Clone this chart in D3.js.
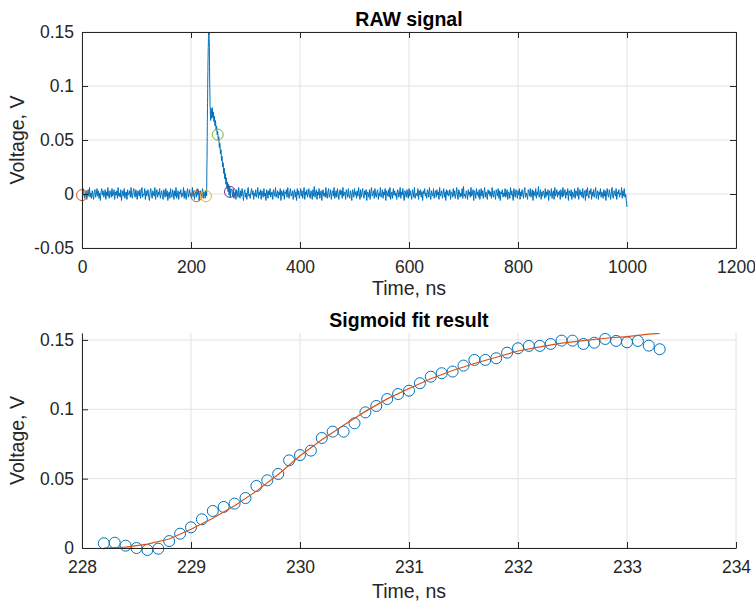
<!DOCTYPE html>
<html>
<head>
<meta charset="utf-8">
<script src="https://cdn.jsdelivr.net/npm/d3@7"></script>
<style>
  body { margin: 0; background: #fff; }
  svg { display: block; font-family: "Liberation Sans", Arial, Helvetica, sans-serif; }
</style>
</head>
<body>
<svg id="chart" width="755" height="604"></svg>
<script>
// ---- data ----

// raw trace: baseline noise before the pulse, in mV, one sample every 1.25 ns from 0 ns
const preStart = 0;
const noiseStep = 1.25;
const preNoiseMv = [
  2, -3, 5, 1, -4, -1, 3, -5, 0, 4, -2, 6, -3, 1, -4, 3, -1, -5, 2, 4,
  -3, 0, 5, -2, 3, -4, 1, -6, 2, 5, -1, 3, -3, 0, 4, -5, 2, -2, 6, -1,
  -4, 3, 1, -3, 5, -2, 0, 4, -5, 2, -1, 3, -4, 6, -2, 1, -3, 4, -6, 0,
  3, -2, 5, -4, 1, 2, -5, 4, -1, 0, 3, -3, 6, -2, -4, 2, 5, -1, -3, 4,
  0, -5, 3, 1, -2, 4, -4, 2, 6, -3, 0, -1, 5, -5, 3, -2, 1, 4, -3, -6,
  2, 5, -1, -4, 3, 0, -2, 6, -5, 1, 4, -3, 2, -1, 5, -4, 0, 3, -2, -5,
  4, 1, -3, 5, -2, 3, -6, 0, 2, -4, 5, -1, -3, 4, 1, -5, 3, -2, 6, -4,
  -1, 3, -5, 2, 0, 4, -3, 1, -2, 6, -4, 3, -1, -5, 2, 5, -3, 0, 4, -2,
  1, -4, 6, -2, 3, -5, 0, 2, -3, 5, -1, 4, -6, 1, 3, -2, 0, 5, -4, 2,
  -1
];

// pulse edges and tail (ns, V)
const pulseT = [226, 227, 228, 233.6, 234, 234.5, 235, 236, 237, 238, 239, 240, 241, 242, 243, 244,
  245, 246, 247, 248, 249, 250, 251, 252, 253, 254, 255, 256, 257, 258, 259, 260, 261, 262, 263,
  264, 265, 266, 267, 268, 269, 270, 271, 272, 273];
const pulseV = [-0.004, 0.003, -0.002, 0.140, 0.118, 0.098, 0.082, 0.068, 0.079, 0.070, 0.080, 0.071,
  0.076, 0.067, 0.072, 0.063, 0.068, 0.059, 0.063, 0.055, 0.058, 0.050, 0.053, 0.043, 0.047, 0.037,
  0.041, 0.031, 0.035, 0.025, 0.029, 0.019, 0.024, 0.014, 0.019, 0.009, 0.015, 0.005, 0.011, 0.002,
  0.009, -0.001, 0.007, -0.003, 0.005];

// baseline noise after the pulse, in mV, every 1.25 ns from 275 ns to 1000 ns
const postStart = 275;
const postNoiseMv = [
  3, -2, 5, -4, 0, 2, -5, 4, 1, -3, 6, -1, -4, 3, -2, 5, 0, -6, 2, 4,
  -3, 1, -5, 3, 6, -2, 0, -4, 2, 5, -1, 3, -5, 1, -2, 4, -3, 0, 6, -4,
  2, -1, 4, -5, 3, 0, -3, 5, -2, 1, -6, 4, 2, -4, 3, -1, 5, -3, 0, 2,
  -5, 4, 1, -2, 6, -3, 0, 3, -4, 2, -1, 5, -6, 3, 1, -2, 4, -5, 2, 0,
  4, -3, 6, -1, -4, 2, 5, -2, 0, 3, -5, 1, 4, -3, 2, -6, 5, -1, 3, -4,
  0, 5, -2, 3, -4, 1, 6, -5, 2, -1, 4, -3, 0, 5, -2, -4, 3, 1, -5, 4,
  -2, 7, -3, 1, 4, -5, 2, -1, 5, -4, 0, 3, -6, 2, 4, -2, 1, -3, 6, -1,
  -4, 2, 5, -3, 0, 4, -5, 1, 3, -2, 6, -4, -1, 3, -3, 5, 0, -5, 2, 4,
  -1, 3, -4, 6, -2, 0, 2, -5, 4, 1, -3, 5, -2, -4, 3, 0, -6, 4, 2, -3,
  5, -1, 2, -4, 3, -2, 6, 0, -5, 4, -3, 1, 5, -2, -4, 3, -1, 4, -6, 2,
  1, -3, 4, -5, 2, 6, -2, 0, 3, -4, 5, -1, -3, 2, 4, -5, 1, -2, 6, -3,
  0, 4, -4, 2, -1, 5, -6, 3, 1, -2, 4, -3, 6, -5, 0, 2, -4, 5, -1, 3,
  -2, 1, -5, 4, 3, -3, 0, 6, -4, 2, -1, 5, -2, -6, 3, 1, -3, 4, 0, -4,
  5, -2, 3, -1, -5, 4, 2, -3, 6, -4, 0, 1, -2, 5, -5, 3, -1, 4, -3, 2,
  -6, 3, 0, 5, -2, 1, -4, 4, 2, -3, 6, -1, -5, 3, 0, -2, 5, -4, 1, 3,
  -3, 4, -1, 2, -5, 6, -2, 0, 3, -4, 1, 5, -3, 2, -6, 4, -1, 3, -2, 0,
  4, -5, 2, 1, -3, 5, -2, 3, -4, 0, 6, -1, -5, 4, 2, -3, 1, -2, 5, -4,
  7, -2, 0, -4, 3, 1, -5, 4, -1, 2, -3, 6, -2, 0, 4, -6, 3, 1, -4, 5,
  -1, 2, -3, 4, -5, 0, 5, -2, 3, -4, 1, 6, -3, 2, -1, -5, 4, 0, 3, -2,
  2, -4, 6, -1, -3, 3, 0, -5, 4, 1, -2, 5, -4, 3, -6, 2, 0, 4, -3, 1,
  -2, 5, -3, 0, 4, -5, 2, 1, -4, 6, -1, 3, -2, -6, 5, 0, -3, 4, 2, -4,
  3, -1, 5, -5, 2, -2, 4, 0, -4, 3, 6, -3, 1, -1, -5, 4, 2, -2, 5, -3,
  0, 4, -6, 3, 1, -2, 5, -4, 2, -1, 7, -3, 0, 4, -5, 2, -2, 3, 1, -4,
  5, -3, 2, -1, 4, -6, 3, 0, -2, 5, -4, 1, 3, -5, 6, -2, 0, 4, -3, 2,
  -1, 3, -5, 4, 0, -3, 6, -2, 1, 4, -4, 2, -1, 5, -6, 3, 1, -2, 4, -5,
  2, 0, -3, 5, -4, 3, 1, -2, 6, -5, 0, 4, -1, 2, -3, 5, -4, 1, 3, -6,
  4, -2, 6, -1, -4, 3, 0, 5, -5, 2, -2, 4, -3, 1, 6, -4, 0, 3, -5, 2,
  -1, 5, -3, 2, 0, -4, 4, -2, 3, -6, 1, 5, -1, -3, 4, 0, -5, 2, 6, -2,
  -4, 3, 1, -2, 5, -5, 2, 0, 4, -3, 1, -1, 6, -4, 3, -2, 5, -3, 0, -6,
  -12
];

// markers on the raw trace
const markT = [0, 210, 227.5, 249, 271.5];
const markV = [-0.001, -0.002, -0.002, 0.055, 0.002];
const markColor = ["#D95319", "#D95319", "#EDB120", "#77AC30", "#7E2F8E"];

// samples of the rising edge (every 0.1 ns from 228.2 ns)
const sampleStart = 228.2;
const sampleStep = 0.1;
const sampleV = [
  0.0034, 0.0038, 0.0017, 0.0000, -0.0014, -0.0005, 0.0050, 0.0103, 0.0149, 0.0207,
  0.0267, 0.0296, 0.0320, 0.0360, 0.0447, 0.0488, 0.0534, 0.0632, 0.0670, 0.0702,
  0.0793, 0.0839, 0.0839, 0.0899, 0.0978, 0.1024, 0.1074, 0.1110, 0.1134, 0.1188,
  0.1235, 0.1260, 0.1272, 0.1315, 0.1356, 0.1356, 0.1368, 0.1408, 0.1440, 0.1457,
  0.1457, 0.1471, 0.1495, 0.1495, 0.1471, 0.1480, 0.1507, 0.1493, 0.1483, 0.1493,
  0.1459, 0.1433
];

// sigmoid fit curve
const fitT = [228.2, 228.4, 228.6, 228.8, 229.0, 229.2, 229.4, 229.6, 229.8, 230.0, 230.2, 230.4,
  230.6, 230.8, 231.0, 231.2, 231.4, 231.6, 231.8, 232.0, 232.2, 232.4, 232.6, 232.8, 233.0, 233.2, 233.3];
const fitV = [0.0000, 0.0007, 0.0028, 0.0065, 0.0135, 0.0215, 0.0305, 0.0410, 0.0530, 0.0665, 0.0780,
  0.0885, 0.0985, 0.1075, 0.1150, 0.1220, 0.1280, 0.1330, 0.1375, 0.1420, 0.1450, 0.1477, 0.1495,
  0.1512, 0.1524, 0.1542, 0.1548];

// ticks
const rawXTicks = [0, 200, 400, 600, 800, 1000, 1200];
const rawYTicks = [-0.05, 0, 0.05, 0.1, 0.15];
const fitXTicks = [228, 229, 230, 231, 232, 233, 234];
const fitYTicks = [0, 0.05, 0.1, 0.15];

// ---- drawing ----
const svg = d3.select("#chart");
const gridColor = "#e2e2e2";
const axisColor = "#262626";
const textColor = "#262626";
const fmt = d => String(+d.toFixed(2));

const samples = sampleV.map((v, i) => [Math.round((sampleStart + i * sampleStep) * 10) / 10, v]);

let raw = [];
preNoiseMv.forEach((mv, i) => raw.push([preStart + i * noiseStep, mv / 1000]));
pulseT.forEach((t, i) => raw.push([t, pulseV[i]]));
samples.forEach(d => raw.push(d));
postNoiseMv.forEach((mv, i) => raw.push([postStart + i * noiseStep, mv / 1000]));
raw.sort((a, b) => a[0] - b[0]);

function panel(p) {
  const x = d3.scaleLinear().domain(p.xDomain).range([82, 736]);
  const y = d3.scaleLinear().domain(p.yDomain).range([p.bottom, p.top]);
  const g = svg.append("g");

  g.append("clipPath").attr("id", p.id + "-clip")
    .append("rect").attr("x", 82).attr("y", p.top).attr("width", 654).attr("height", p.bottom - p.top);

  // grid
  g.selectAll(".gx").data(p.xTicks).enter().append("line")
    .attr("x1", d => x(d)).attr("x2", d => x(d))
    .attr("y1", p.top).attr("y2", p.bottom)
    .attr("stroke", gridColor).attr("stroke-width", 1);
  g.selectAll(".gy").data(p.yTicks).enter().append("line")
    .attr("x1", 82).attr("x2", 736)
    .attr("y1", d => y(d)).attr("y2", d => y(d))
    .attr("stroke", gridColor).attr("stroke-width", 1);

  const plot = g.append("g");
  const axes = g.append("g");

  const bottomAxis = d3.axisBottom(x).tickValues(p.xTicks).tickFormat(fmt)
    .tickSizeInner(-6).tickSizeOuter(0).tickPadding(13);
  const leftAxis = d3.axisLeft(y).tickValues(p.yTicks).tickFormat(fmt)
    .tickSizeInner(-6).tickSizeOuter(0).tickPadding(8);

  axes.append("g").attr("transform", "translate(0," + p.bottom + ")").call(bottomAxis);
  axes.append("g").attr("transform", "translate(82,0)").call(leftAxis);

  if (p.box) {
    axes.append("g").attr("transform", "translate(0," + p.top + ")")
      .call(d3.axisTop(x).tickValues(p.xTicks).tickFormat("").tickSizeInner(-6).tickSizeOuter(0));
    axes.append("g").attr("transform", "translate(736,0)")
      .call(d3.axisRight(y).tickValues(p.yTicks).tickFormat("").tickSizeInner(-6).tickSizeOuter(0));
  }

  axes.selectAll(".domain").attr("stroke", axisColor).attr("stroke-width", 1);
  axes.selectAll(".tick line").attr("stroke", axisColor).attr("stroke-width", 1);
  axes.selectAll(".tick text").attr("fill", textColor)
    .style("font-size", "17.5px").style("font-family", "inherit");

  g.append("text")
    .attr("x", 409).attr("y", p.titleY)
    .attr("text-anchor", "middle")
    .style("font-size", "19.5px").style("font-weight", "bold").attr("fill", "#000")
    .text(p.title);

  g.append("text")
    .attr("x", 409).attr("y", p.xLabelY)
    .attr("text-anchor", "middle")
    .style("font-size", "19.5px").attr("fill", textColor)
    .text("Time, ns");

  g.append("text")
    .attr("transform", "translate(24," + ((p.top + p.bottom) / 2) + ") rotate(-90)")
    .attr("text-anchor", "middle")
    .style("font-size", "19.5px").attr("fill", textColor)
    .text("Voltage, V");

  return { x: x, y: y, plot: plot };
}

// top: RAW signal
const rawPanel = panel({
  id: "raw", xDomain: [0, 1200], yDomain: [-0.05, 0.15], top: 32, bottom: 248,
  xTicks: rawXTicks, yTicks: rawYTicks, box: true,
  title: "RAW signal", titleY: 26, xLabelY: 295
});

rawPanel.plot.append("path")
  .datum(raw)
  .attr("clip-path", "url(#raw-clip)")
  .attr("fill", "none")
  .attr("stroke", "#0072BD")
  .attr("stroke-width", 1)
  .attr("stroke-linejoin", "round")
  .attr("d", d3.line().x(d => rawPanel.x(d[0])).y(d => rawPanel.y(d[1])));

rawPanel.plot.selectAll(".mark").data(markT).enter().append("circle")
  .attr("cx", d => rawPanel.x(d))
  .attr("cy", (d, i) => rawPanel.y(markV[i]))
  .attr("r", 5.5)
  .attr("fill", "none")
  .attr("stroke", (d, i) => markColor[i])
  .attr("stroke-width", 1);

// bottom: sigmoid fit
const fitPanel = panel({
  id: "fit", xDomain: [228, 234], yDomain: [0, 0.155], top: 333, bottom: 548,
  xTicks: fitXTicks, yTicks: fitYTicks, box: false,
  title: "Sigmoid fit result", titleY: 327, xLabelY: 598
});

fitPanel.plot.selectAll(".sample").data(samples).enter().append("circle")
  .attr("cx", d => fitPanel.x(d[0]))
  .attr("cy", d => fitPanel.y(d[1]))
  .attr("r", 5.5)
  .attr("fill", "none")
  .attr("stroke", "#0072BD")
  .attr("stroke-width", 1);

fitPanel.plot.append("path")
  .datum(fitT.map((t, i) => [t, fitV[i]]))
  .attr("clip-path", "url(#fit-clip)")
  .attr("fill", "none")
  .attr("stroke", "#D95319")
  .attr("stroke-width", 1.2)
  .attr("d", d3.line().x(d => fitPanel.x(d[0])).y(d => fitPanel.y(d[1])));
</script>
</body>
</html>
